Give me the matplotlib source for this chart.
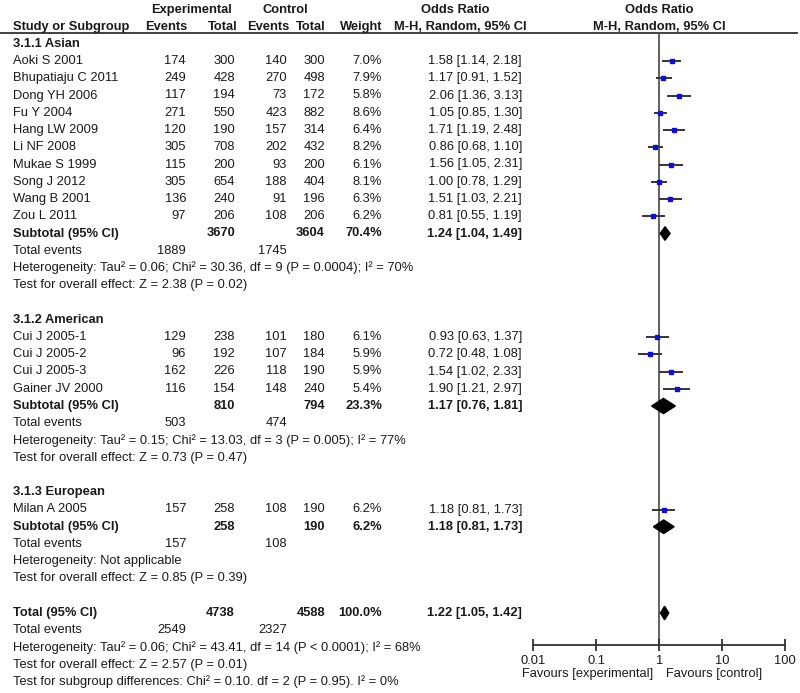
import numpy as np
import matplotlib
matplotlib.use('Agg')
import matplotlib.pyplot as plt
from matplotlib.patches import Polygon

plt.rcParams['font.family'] = ['Liberation Sans', 'DejaVu Sans']

# study level data
studies = ['Aoki S 2001', 'Bhupatiaju C 2011', 'Dong YH 2006', 'Fu Y 2004', 'Hang LW 2009',
           'Li NF 2008', 'Mukae S 1999', 'Song J 2012', 'Wang B 2001', 'Zou L 2011',
           'Cui J 2005-1', 'Cui J 2005-2', 'Cui J 2005-3', 'Gainer JV 2000',
           'Milan A 2005']
group_of = [0]*10 + [1]*4 + [2]
exp_events = [174, 249, 117, 271, 120, 305, 115, 305, 136, 97, 129, 96, 162, 116, 157]
exp_total = [300, 428, 194, 550, 190, 708, 200, 654, 240, 206, 238, 192, 226, 154, 258]
ctrl_events = [140, 270, 73, 423, 157, 202, 93, 188, 91, 108, 101, 107, 118, 148, 108]
ctrl_total = [300, 498, 172, 882, 314, 432, 200, 404, 196, 206, 180, 184, 190, 240, 190]
weights = [7.0, 7.9, 5.8, 8.6, 6.4, 8.2, 6.1, 8.1, 6.3, 6.2, 6.1, 5.9, 5.9, 5.4, 6.2]
or_est = [1.58, 1.17, 2.06, 1.05, 1.71, 0.86, 1.56, 1.00, 1.51, 0.81, 0.93, 0.72, 1.54, 1.90, 1.18]
or_lo = [1.14, 0.91, 1.36, 0.85, 1.19, 0.68, 1.05, 0.78, 1.03, 0.55, 0.63, 0.48, 1.02, 1.21, 0.81]
or_hi = [2.18, 1.52, 3.13, 1.30, 2.48, 1.10, 2.31, 1.29, 2.21, 1.19, 1.37, 1.08, 2.33, 2.97, 1.73]

# subgroup data
groups = ['3.1.1 Asian', '3.1.2 American', '3.1.3 European']
sub_exp_total = [3670, 810, 258]
sub_ctrl_total = [3604, 794, 190]
sub_weight = [70.4, 23.3, 6.2]
sub_est = [1.24, 1.17, 1.18]
sub_lo = [1.04, 0.76, 0.81]
sub_hi = [1.49, 1.81, 1.73]
sub_exp_events = [1889, 503, 157]
sub_ctrl_events = [1745, 474, 108]
sub_het = ['Heterogeneity: Tau\u00b2 = 0.06; Chi\u00b2 = 30.36, df = 9 (P = 0.0004); I\u00b2 = 70%',
           'Heterogeneity: Tau\u00b2 = 0.15; Chi\u00b2 = 13.03, df = 3 (P = 0.005); I\u00b2 = 77%',
           'Heterogeneity: Not applicable']
sub_z = ['Test for overall effect: Z = 2.38 (P = 0.02)',
         'Test for overall effect: Z = 0.73 (P = 0.47)',
         'Test for overall effect: Z = 0.85 (P = 0.39)']

# overall
tot_exp_total, tot_ctrl_total = 4738, 4588
tot_est, tot_lo, tot_hi = 1.22, 1.05, 1.42
tot_exp_events, tot_ctrl_events = 2549, 2327
tot_lines = ['Heterogeneity: Tau\u00b2 = 0.06; Chi\u00b2 = 43.41, df = 14 (P < 0.0001); I\u00b2 = 68%',
             'Test for overall effect: Z = 2.57 (P = 0.01)',
             'Test for subgroup differences: Chi\u00b2 = 0.10. df = 2 (P = 0.95). I\u00b2 = 0%']

ticks = [0.01, 0.1, 1, 10, 100]
tick_labels = ['0.01', '0.1', '1', '10', '100']

W, H = 800, 693
fs = 9.3
tc = '#1a1a1a'
y0, pitch = 61, 17.25   # first study row and row spacing (pixels)
x_name, x_ee, x_et, x_ce, x_ct, x_w, x_or = 13, 186, 235, 287, 325, 382, 522
ax_l, ax_r, ax_top, ax_bot = 533.3, 785, 33, 645

fig = plt.figure(figsize=(W/100, H/100), dpi=100)
ax = fig.add_axes([0, 0, 1, 1])
ax.set_xlim(0, W)
ax.set_ylim(H, 0)
ax.axis('off')

fa = fig.add_axes([ax_l/W, (H-ax_bot)/H, (ax_r-ax_l)/W, (ax_bot-ax_top)/H])
fa.set_xscale('log')
fa.set_xlim(0.01, 100)
fa.set_ylim(ax_bot, ax_top)
fa.patch.set_alpha(0)
for s in ['top', 'left', 'right']:
    fa.spines[s].set_visible(False)
fa.spines['bottom'].set_linewidth(1.3)
fa.spines['bottom'].set_color('#333333')
fa.set_yticks([])
fa.set_xticks(ticks)
fa.set_xticklabels(tick_labels)
fa.minorticks_off()
fa.tick_params(axis='x', direction='inout', length=9, width=1.3, color='#333333',
               labelsize=fs, labelcolor=tc, pad=2.5)
fa.axvline(1, color='#555555', lw=1.3, zorder=1)

def txt(x, y, s, ha='left', bold=False):
    ax.text(x, y, s, ha=ha, va='center', fontsize=fs, color=tc,
            fontweight='bold' if bold else 'normal')

def row_y(k):
    return y0 + pitch*k

def diamond(y, lo, est, hi, h=6.8):
    fa.add_patch(Polygon([(lo, y), (est, y-h), (hi, y), (est, y+h)],
                         closed=True, color='black', zorder=3))

# header
hy1, hy2 = 10, 27
txt(192, hy1, 'Experimental', ha='center', bold=True)
txt(285, hy1, 'Control', ha='center', bold=True)
txt(455, hy1, 'Odds Ratio', ha='center', bold=True)
txt(659, hy1, 'Odds Ratio', ha='center', bold=True)
txt(x_name, hy2, 'Study or Subgroup', bold=True)
txt(x_ee + 1, hy2, 'Events', ha='right', bold=True)
txt(x_et + 2, hy2, 'Total', ha='right', bold=True)
txt(x_ce + 2, hy2, 'Events', ha='right', bold=True)
txt(x_ct, hy2, 'Total', ha='right', bold=True)
txt(x_w, hy2, 'Weight', ha='right', bold=True)
txt(460, hy2, 'M-H, Random, 95% CI', ha='center', bold=True)
txt(659, hy2, 'M-H, Random, 95% CI', ha='center', bold=True)
ax.plot([0, 797], [ax_top, ax_top], color='#333333', lw=1.3)

k = -1
for g, gname in enumerate(groups):
    txt(x_name, row_y(k), gname, bold=True)
    k += 1
    for i in range(len(studies)):
        if group_of[i] != g:
            continue
        y = row_y(k)
        txt(x_name, y, studies[i])
        txt(x_ee, y, str(exp_events[i]), ha='right')
        txt(x_et, y, str(exp_total[i]), ha='right')
        txt(x_ce, y, str(ctrl_events[i]), ha='right')
        txt(x_ct, y, str(ctrl_total[i]), ha='right')
        txt(x_w, y, '%.1f%%' % weights[i], ha='right')
        txt(x_or, y, '%.2f [%.2f, %.2f]' % (or_est[i], or_lo[i], or_hi[i]), ha='right')
        fa.plot([or_lo[i], or_hi[i]], [y, y], color='#333333', lw=1.4, zorder=2)
        fa.plot(or_est[i], y, 's', color='#1010c8', ms=2.0 + 0.17*weights[i], zorder=3)
        k += 1
    y = row_y(k)
    txt(x_name, y, 'Subtotal (95% CI)', bold=True)
    txt(x_et, y, str(sub_exp_total[g]), ha='right', bold=True)
    txt(x_ct, y, str(sub_ctrl_total[g]), ha='right', bold=True)
    txt(x_w, y, '%.1f%%' % sub_weight[g], ha='right', bold=True)
    txt(x_or, y, '%.2f [%.2f, %.2f]' % (sub_est[g], sub_lo[g], sub_hi[g]), ha='right', bold=True)
    diamond(y, sub_lo[g], sub_est[g], sub_hi[g], h=7.6 if g == 1 else 6.8)
    k += 1
    txt(x_name, row_y(k), 'Total events')
    txt(x_ee, row_y(k), str(sub_exp_events[g]), ha='right')
    txt(x_ce, row_y(k), str(sub_ctrl_events[g]), ha='right')
    k += 1
    txt(x_name, row_y(k), sub_het[g])
    k += 1
    txt(x_name, row_y(k), sub_z[g])
    k += 2

y = row_y(k)
txt(x_name, y, 'Total (95% CI)', bold=True)
txt(x_et, y, str(tot_exp_total), ha='right', bold=True)
txt(x_ct, y, str(tot_ctrl_total), ha='right', bold=True)
txt(x_w, y, '100.0%', ha='right', bold=True)
txt(x_or, y, '%.2f [%.2f, %.2f]' % (tot_est, tot_lo, tot_hi), ha='right', bold=True)
diamond(y, tot_lo, tot_est, tot_hi)
k += 1
txt(x_name, row_y(k), 'Total events')
txt(x_ee, row_y(k), str(tot_exp_events), ha='right')
txt(x_ce, row_y(k), str(tot_ctrl_events), ha='right')
for line in tot_lines:
    k += 1
    txt(x_name, row_y(k), line)

txt(653, 674, 'Favours [experimental]', ha='right')
txt(666, 674, 'Favours [control]')

fig.savefig('out.png', dpi=100)
